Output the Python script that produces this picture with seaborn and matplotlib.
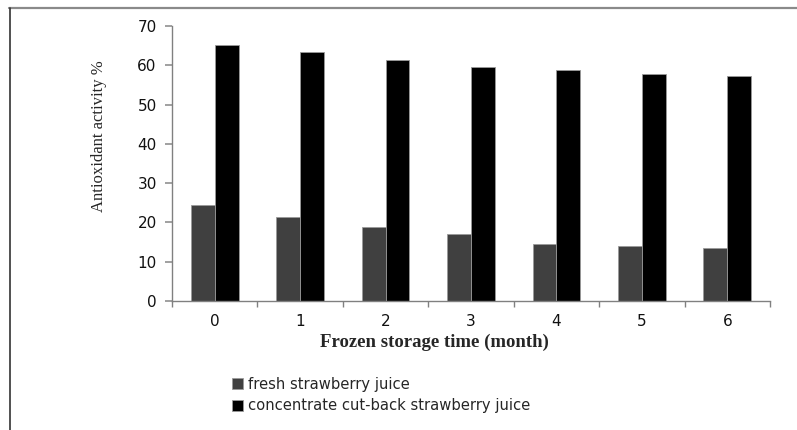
import matplotlib
matplotlib.use("Agg")
import matplotlib.pyplot as plt
from matplotlib.lines import Line2D
import pandas as pd
import seaborn as sns

months = ["0", "1", "2", "3", "4", "5", "6"]
fresh = [24.4, 21.4, 18.9, 17.0, 14.4, 13.9, 13.4]
concentrate = [65.1, 63.4, 61.3, 59.6, 58.9, 57.9, 57.3]
series_names = ["fresh strawberry juice", "concentrate cut-back strawberry juice"]

df = pd.DataFrame({
    "month": months * 2,
    "value": fresh + concentrate,
    "juice": [series_names[0]] * len(months) + [series_names[1]] * len(months),
})

sns.set_style("white")
fig = plt.figure(figsize=(7.97, 4.30), dpi=100)
ax = fig.add_axes([172 / 797, 1 - 301 / 430, (770 - 172) / 797, (301 - 26) / 430])

sns.barplot(data=df, x="month", y="value", hue="juice", order=months,
            hue_order=series_names, palette=["#404040", "#000000"],
            width=0.56, gap=0, saturation=1, ax=ax, legend=True)
for p in ax.patches:
    p.set_edgecolor("#9a9a9a")
    p.set_linewidth(0.6)

ax.set_ylim(0, 70)
ax.set_yticks(range(0, 71, 10))
ax.set_xlim(-0.5, 6.5)
ax.set_xticks(range(7))
ax.set_xticklabels(months)
# tick marks between categories on x axis
ax.set_xticks([i - 0.5 for i in range(8)], minor=True)
ax.tick_params(axis="x", which="major", bottom=False, length=0, pad=9)
ax.tick_params(axis="x", which="minor", bottom=True, length=4, direction="out",
               color="#808080", width=1)
ax.tick_params(axis="y", left=True, length=5, direction="out", color="#909090",
               width=1.2, pad=6)
for lab in ax.get_xticklabels() + ax.get_yticklabels():
    lab.set_fontfamily("DejaVu Sans")
    lab.set_fontsize(11)
    lab.set_fontweight("medium")
    lab.set_color("#111111")

for s in ["top", "right"]:
    ax.spines[s].set_visible(False)
for s in ["left", "bottom"]:
    ax.spines[s].set_color("#808080")
    ax.spines[s].set_linewidth(1)

ax.set_xlabel("Frozen storage time (month)", fontfamily="Liberation Serif",
              fontsize=13.5, fontweight="bold", labelpad=4)
ax.xaxis.label.set_x((434 - 172) / 598)
ax.set_ylabel("Antioxidant activity %", fontfamily="Liberation Serif",
              fontsize=12, labelpad=22)
ax.yaxis.label.set_y((301 - 136) / 275)

leg = ax.legend(loc="center left", frameon=False,
                prop={"family": "DejaVu Sans", "size": 10.6},
                handlelength=0.75, handleheight=0.75, handletextpad=0.35,
                labelspacing=0.45, borderaxespad=0, borderpad=0)
leg.set_bbox_to_anchor((232 / 797, 1 - 395 / 430), transform=fig.transFigure)

# outer frame lines
fig.add_artist(Line2D([9 / 797, 1.0], [1 - 7.5 / 430] * 2, transform=fig.transFigure,
                      color="#8a8a8a", linewidth=1.6))
fig.add_artist(Line2D([9.5 / 797] * 2, [0, 1 - 7.5 / 430], transform=fig.transFigure,
                      color="#333333", linewidth=1.2))

fig.savefig("out.png", dpi=100)
